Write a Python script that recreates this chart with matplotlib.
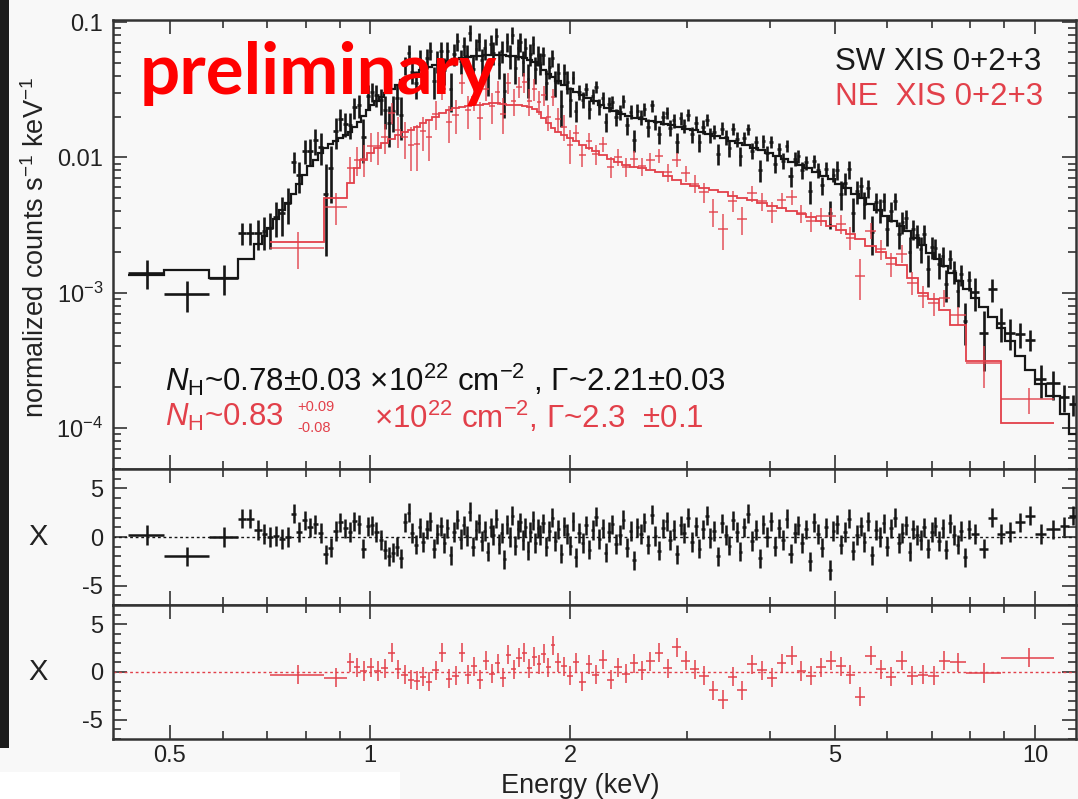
import numpy as np
import matplotlib
matplotlib.use("Agg")
import matplotlib.pyplot as plt
from matplotlib.patches import Rectangle
from matplotlib.ticker import FixedLocator, FixedFormatter, NullFormatter, LogLocator, MultipleLocator

plt.rcParams['font.family'] = ['Liberation Sans', 'DejaVu Sans']
plt.rcParams['mathtext.fontset'] = 'custom'
plt.rcParams['mathtext.rm'] = 'Liberation Sans'
plt.rcParams['mathtext.it'] = 'Liberation Sans:italic'
plt.rcParams['mathtext.bf'] = 'Liberation Sans:bold'
plt.rcParams['axes.unicode_minus'] = False

# ---------------- data ----------------
# SW (black): data bin edges [keV]
SW_EDGES = [0.433, 0.490, 0.572, 0.634, 0.650, 0.668, 0.687, 0.700, 0.715, 0.730,
            0.745, 0.760, 0.775, 0.790, 0.805, 0.820, 0.835, 0.850, 0.865, 0.880,
            0.895, 0.910, 0.925, 0.940, 0.955, 0.970, 0.985, 1.000,
            1.015, 1.030, 1.045, 1.061, 1.076, 1.090, 1.105, 1.120, 1.136, 1.150,
            1.165, 1.180, 1.195, 1.211, 1.225, 1.240, 1.255, 1.270, 1.286, 1.300,
            1.315, 1.330, 1.345, 1.361, 1.375, 1.390, 1.405, 1.420, 1.436, 1.450,
            1.465, 1.480, 1.495, 1.511, 1.525, 1.540, 1.555, 1.570, 1.586, 1.600,
            1.615, 1.630, 1.645, 1.661, 1.675, 1.690, 1.705, 1.720, 1.736, 1.750,
            1.765, 1.780, 1.795, 1.810,
            1.830, 1.850, 1.870, 1.890, 1.910, 1.930, 1.950, 1.970, 1.990, 2.010,
            2.030, 2.050, 2.075, 2.100, 2.125, 2.150, 2.175, 2.200, 2.225, 2.250,
            2.275, 2.300, 2.330, 2.360, 2.390, 2.420, 2.450, 2.480, 2.510, 2.540,
            2.570, 2.600, 2.635, 2.670, 2.705, 2.740, 2.775, 2.810, 2.845, 2.880,
            2.915, 2.950, 2.990, 3.030,
            3.070, 3.110, 3.150, 3.190, 3.230, 3.270, 3.315, 3.360, 3.405, 3.450,
            3.495, 3.540, 3.585, 3.630, 3.680, 3.730, 3.780, 3.830, 3.880, 3.930,
            3.985, 4.040, 4.095, 4.150, 4.205, 4.260, 4.320, 4.380, 4.440, 4.500,
            4.560, 4.620, 4.685, 4.750, 4.815, 4.880, 4.945, 5.010,
            5.080, 5.150, 5.220, 5.290, 5.360, 5.430, 5.505, 5.580, 5.655, 5.730,
            5.805, 5.880, 5.960, 6.040, 6.120, 6.200, 6.280, 6.360, 6.440, 6.520,
            6.605, 6.690, 6.775, 6.860, 6.950, 7.040,
            7.130, 7.220, 7.310, 7.400, 7.500, 7.600, 7.700, 7.800, 7.910, 8.020,
            8.250, 8.500, 8.760, 9.030, 9.330, 9.650, 10.00, 10.40, 10.90, 11.25, 11.60]

# SW residuals (chi) per data bin
SW_CHI = [0.2, -2.0, 0.0, 1.9, 1.9, 0.7, 0.3, 0.0, 0.1, -0.2,
          0.0, 2.4, 0.5, 1.7, 1.0, 1.3, 0.4, -1.8, -1.1, 0.6,
          1.5, 0.9, 0.5, 1.6, 1.3, -1.2, 1.1,
          1.2, 0.5, -0.3, -1.3, -2.0, -1.6, -1.0, -2.2, 1.5, 2.5,
          0.4, -0.8, 1.0, -0.5, 0.8, 1.6, -1.2, 0.3, 1.1, -0.6,
          0.9, -1.9, 0.5, 1.8, -0.2, 1.2, 0.1, 2.6, -1.0, 0.7,
          1.4, -0.4, 0.6, -1.5, 1.0, 0.2, 1.9, -0.7, 0.4, -2.3,
          1.3, 0.0, 2.2, -0.9, 0.8, 1.5, -0.3, 1.0, -1.4, 0.5,
          1.7, -0.6, 0.9, 0.2,
          1.4, -1.0, 0.6, 2.0, -0.4, 0.8, -1.7, 1.1, 0.3, -0.9,
          1.6, -2.1, 0.4, -0.6, 1.2, -1.3, 0.7, 2.1, -0.2, 0.9,
          -1.6, 0.5, 1.3, -0.7, 0.2, 1.8, -1.1, 0.6, -2.4, 1.0,
          0.3, 1.5, -0.8, 2.3, 0.1, -1.4, 0.9, 1.6, -0.3, 0.7,
          -1.8, 1.2, 0.4, 2.0,
          -0.5, 1.1, -1.2, 0.8, 2.2, -0.1, 0.6, -2.0, 1.4, 0.2,
          -0.9, 1.7, 0.5, -1.5, 1.0, 2.4, -0.4, 0.7, -2.2, 1.3,
          0.0, 1.6, -1.0, 0.9, -0.3, 1.9, -1.7, 0.4, 1.2, -0.6,
          0.8, -2.5, 1.5, 0.3, -1.1, 1.0, -3.4, 0.6,
          1.3, -0.8, 0.5, 1.9, -1.4, 0.2, 1.1, -0.5, 1.6, -1.9,
          0.7, 0.0, 1.4, -1.0, 0.9, 2.0, -0.6, 0.4, 1.2, -1.5,
          0.8, 0.2, -0.3, 1.0, -1.2, 0.5,
          1.1, -0.4, 0.9, -1.3, 1.4, 0.2, -0.8, 0.6, -2.1, 0.8,
          0.3, -1.2, 2.0, 0.3, 0.5, 1.5, 2.2, 0.3, 0.8, 1.1, 2.2]

# SW best-fit model (step line): edges and values [counts/s/keV]
SW_MODEL_EDGES = [0.433, 0.490, 0.572, 0.634, 0.668, 0.687, 0.700, 0.715, 0.730, 0.745,
                  0.760, 0.775, 0.790, 0.805, 0.820, 0.835, 0.850, 0.865, 0.880, 0.895,
                  0.910, 0.925, 0.940, 0.955, 0.970, 0.985, 1.000, 1.015, 1.030, 1.050,
                  1.070, 1.090, 1.110, 1.135, 1.160, 1.185, 1.210, 1.240, 1.270, 1.300,
                  1.330, 1.360, 1.390, 1.420, 1.450, 1.480, 1.510, 1.540, 1.570, 1.600,
                  1.630, 1.660, 1.690, 1.720, 1.750, 1.780, 1.810, 1.840, 1.870, 1.900,
                  1.940, 1.980, 2.020, 2.060, 2.100, 2.150, 2.200, 2.250, 2.300, 2.360,
                  2.420, 2.480, 2.540, 2.600, 2.670, 2.740, 2.810, 2.880, 2.950, 3.030,
                  3.110, 3.190, 3.270, 3.360, 3.450, 3.540, 3.630, 3.730, 3.830, 3.930,
                  4.040, 4.150, 4.260, 4.380, 4.500, 4.620, 4.750, 4.880, 5.010, 5.150,
                  5.290, 5.430, 5.580, 5.730, 5.880, 6.040, 6.200, 6.360, 6.520, 6.690,
                  6.860, 7.040, 7.220, 7.400, 7.600, 7.800, 8.020, 8.250, 8.500, 8.760,
                  9.030, 9.330, 9.650, 10.00, 10.40, 10.90, 11.25, 11.60]
SW_MODEL = [1.34e-3, 1.47e-3, 1.29e-3, 1.76e-3, 2.27e-3, 2.60e-3, 2.98e-3, 3.50e-3, 4.10e-3, 4.60e-3,
            5.40e-3, 6.40e-3, 7.40e-3, 8.60e-3, 9.60e-3, 0.0107, 0.0117, 0.0125, 0.0132, 0.0139,
            0.0145, 0.0155, 0.0167, 0.0183, 0.0203, 0.0223, 0.0245, 0.0263, 0.0280, 0.0300,
            0.0322, 0.0345, 0.0370, 0.0395, 0.0420, 0.0443, 0.0465, 0.0485, 0.0500, 0.0515,
            0.0530, 0.0540, 0.0550, 0.0558, 0.0565, 0.0570, 0.0572, 0.0572, 0.0570, 0.0565,
            0.0558, 0.0550, 0.0540, 0.0528, 0.0510, 0.0480, 0.0445, 0.0415, 0.0390, 0.0365,
            0.0342, 0.0322, 0.0305, 0.0290, 0.0275, 0.0260, 0.0245, 0.0232, 0.0220, 0.0210,
            0.0202, 0.0196, 0.0191, 0.0186, 0.0181, 0.0177, 0.0172, 0.0168, 0.0163, 0.0158,
            0.0153, 0.0148, 0.0143, 0.0138, 0.0133, 0.0128, 0.0123, 0.0118, 0.0113, 0.0108,
            0.0103, 0.0098, 0.0093, 0.0088, 0.0083, 0.0078, 0.0073, 0.0069, 0.0064, 0.0059,
            0.0054, 0.0050, 0.0045, 0.0041, 0.0037, 0.0034, 0.0031, 0.00285, 0.00255, 0.00225,
            0.00197, 0.00176, 0.00157, 0.00139, 0.00122, 0.00107, 0.00092, 0.00078, 0.00066, 0.00055,
            0.00044, 0.00034, 0.00027, 0.00021, 0.000172, 0.000127, 0.000090]
# SW fractional 1-sigma errors by energy band
SW_ERR_EDGES = [0.433, 0.490, 0.572, 0.634, 0.900, 1.000, 2.000, 5.000, 8.000, 11.60]
SW_ERR = [0.25, 0.17, 0.25, 0.30, 0.25, 0.20, 0.13, 0.20, 0.30]

# NE (red): bins (data bins == model bins), model, residuals
NE_EDGES = [0.707, 0.853, 0.923, 0.946, 0.966, 0.990, 1.014, 1.040, 1.065, 1.090,
            1.115, 1.140, 1.165, 1.190, 1.215, 1.240, 1.270, 1.300, 1.330, 1.360,
            1.390, 1.420, 1.450, 1.480, 1.510, 1.540, 1.570, 1.600, 1.630, 1.660,
            1.690, 1.720, 1.750, 1.780, 1.810, 1.840, 1.870, 1.900, 1.940, 1.980,
            2.020, 2.060, 2.110, 2.160, 2.210, 2.270, 2.330, 2.390, 2.460, 2.530,
            2.600, 2.680, 2.760, 2.850, 2.940, 3.030, 3.130, 3.230, 3.340, 3.450,
            3.570, 3.690, 3.820, 3.950, 4.090, 4.230, 4.380, 4.530, 4.690, 4.850,
            5.020, 5.190, 5.370, 5.560, 5.760, 5.970, 6.190, 6.420, 6.660, 6.910,
            7.170, 7.450, 7.870, 8.890, 10.70]
NE_MODEL = [2.35e-3, 4.97e-3, 6.5e-3, 8.4e-3, 9.5e-3, 0.0107, 0.0117, 0.0127, 0.0137, 0.0146,
            0.0153, 0.0160, 0.0168, 0.0178, 0.0188, 0.0200, 0.0212, 0.0222, 0.0230, 0.0236,
            0.0240, 0.0243, 0.0245, 0.0248, 0.0250, 0.0250, 0.0248, 0.0245, 0.0243, 0.0242,
            0.0240, 0.0236, 0.0228, 0.0215, 0.0195, 0.0178, 0.0165, 0.0154, 0.0146, 0.0138,
            0.0131, 0.0124, 0.0117, 0.0111, 0.0104, 0.0098, 0.0093, 0.0088, 0.0085, 0.0083,
            0.0081, 0.0078, 0.0073, 0.0068, 0.0064, 0.0061, 0.0059, 0.0057, 0.0055, 0.0052,
            0.0050, 0.0048, 0.0046, 0.0044, 0.0042, 0.0040, 0.0038, 0.0036, 0.0034, 0.0031,
            0.0029, 0.0027, 0.0025, 0.0022, 0.0020, 0.0018, 0.0016, 0.00128, 0.00100, 0.00090,
            0.00075, 0.00058, 0.00031, 0.000109]
NE_CHI = [-0.3, -0.6, 1.0, 0.5, 0.1, 0.5, 0.1, 0.4, 2.0, 0.3,
          -0.3, -0.8, -0.9, -0.5, -1.0, 0.2, 2.0, -0.7, -0.4, 2.0,
          -0.3, 0.6, -0.8, 1.2, -0.2, 0.9, -0.6, 1.8, 0.3, 1.5,
          2.0, 0.4, 1.6, 0.8, 1.9, 0.5, 2.8, 1.0, 0.6, -0.4,
          1.0, -1.0, 0.8, -0.3, 1.3, -0.8, 0.5, -0.2, 0.9, 0.2,
          1.1, 2.0, 0.4, 2.6, 1.2, 0.3, -0.4, -1.9, -2.9, -0.5,
          -1.9, 0.8, 0.2, -0.6, 0.9, 1.7, 0.1, -0.4, 0.5, 1.2,
          0.6, -0.3, -2.6, 1.7, 0.3, -0.5, 1.2, -0.4, -0.3, -0.4,
          1.2, 1.0, -0.1, 1.5]
NE_ERR_EDGES = [0.700, 0.853, 0.923, 1.200, 2.000, 5.000, 7.870, 10.80]
NE_ERR = [0.28, 0.23, 0.28, 0.25, 0.16, 0.18, 0.33]

X_TICKS = [0.5, 1, 2, 5, 10]
X_TICKLABELS = ['0.5', '1', '2', '5', '10']
X_MINOR = [0.6, 0.7, 0.8, 0.9, 3, 4, 6, 7, 8, 9]
Y_TICKS = [1e-4, 1e-3, 1e-2, 1e-1]
Y_TICKLABELS = [r'10$^{-4}$', r'10$^{-3}$', '0.01', '0.1']
R_TICKS = [-5, 0, 5]
R_TICKLABELS = ['-5', '0', '5']

BLACK = '#161616'
RED = '#e2404a'

# ---------------- derived quantities ----------------
def spectrum(edges, chi, m_edges, m_vals, e_edges, e_vals):
    edges = np.asarray(edges)
    lo, hi = edges[:-1], edges[1:]
    cen = 0.5 * (lo + hi)
    mod = np.asarray(m_vals)[np.searchsorted(m_edges, cen) - 1]
    rel = np.asarray(e_vals)[np.searchsorted(e_edges, cen) - 1]
    err = rel * mod
    flux = mod + np.asarray(chi) * err
    return lo, hi, cen, flux, err

sw_lo, sw_hi, sw_c, sw_f, sw_e = spectrum(SW_EDGES, SW_CHI, SW_MODEL_EDGES, SW_MODEL, SW_ERR_EDGES, SW_ERR)
ne_lo, ne_hi, ne_c, ne_f, ne_e = spectrum(NE_EDGES, NE_CHI, NE_EDGES, NE_MODEL, NE_ERR_EDGES, NE_ERR)

# ---------------- figure ----------------
W, H = 1078, 799
BG = '#f8f8f8'
fig = plt.figure(figsize=(W / 100, H / 100), dpi=100, facecolor=BG)

def fx(px):
    return px / W

def fy(py):
    return 1 - py / H

L, R = 113, 1076
T0, B0, B1, B2 = 20, 469, 605, 739
ax = fig.add_axes([fx(L), fy(B0), fx(R) - fx(L), fy(T0) - fy(B0)])
axr1 = fig.add_axes([fx(L), fy(B1), fx(R) - fx(L), fy(B0) - fy(B1)], sharex=ax)
axr2 = fig.add_axes([fx(L), fy(B2), fx(R) - fx(L), fy(B1) - fy(B2)], sharex=ax)

# decorations outside the plot (dark strip at left edge, white corner at bottom left)
fig.patches.append(Rectangle((0, fy(748)), fx(9), 1 - fy(748), transform=fig.transFigure,
                             facecolor='#1c1c1c', edgecolor='none', zorder=-5))
fig.patches.append(Rectangle((0, 0), fx(400), fy(772), transform=fig.transFigure,
                             facecolor='white', edgecolor='none', zorder=-5))

for a in (ax, axr1, axr2):
    a.set_facecolor(BG)
    a.set_zorder(2)
    for s in a.spines.values():
        s.set_linewidth(1.8)
        s.set_color('#333333')

# main spectrum
ax.errorbar(sw_c, sw_f, xerr=[sw_c - sw_lo, sw_hi - sw_c], yerr=sw_e, fmt='none',
            ecolor=BLACK, elinewidth=1.9, capsize=0, zorder=3)
ax.stairs(SW_MODEL, SW_MODEL_EDGES, baseline=None, color=BLACK, lw=1.6, zorder=4)
ax.errorbar(ne_c, ne_f, xerr=[ne_c - ne_lo, ne_hi - ne_c], yerr=ne_e, fmt='none',
            ecolor=RED, elinewidth=1.1, capsize=0, zorder=5, alpha=0.9)
ax.stairs(NE_MODEL, NE_EDGES, baseline=None, color=RED, lw=1.3, zorder=6)

ax.set_xscale('log')
ax.set_yscale('log')
ax.set_xlim(0.4106, 11.53)
ax.set_ylim(4.97e-5, 0.1035)

# residuals
axr1.errorbar(sw_c, SW_CHI, xerr=[sw_c - sw_lo, sw_hi - sw_c], yerr=1.0, fmt='none',
              ecolor=BLACK, elinewidth=1.8, capsize=0, zorder=3)
axr1.axhline(0, color=BLACK, lw=1.0, ls=(0, (2, 2)), zorder=2)
axr2.errorbar(ne_c, NE_CHI, xerr=[ne_c - ne_lo, ne_hi - ne_c], yerr=1.0, fmt='none',
              ecolor=RED, elinewidth=1.1, capsize=0, zorder=3)
axr2.axhline(0, color=RED, lw=1.0, ls=(0, (2, 2)), zorder=2)
for a in (axr1, axr2):
    a.set_ylim(-7, 7)
    a.yaxis.set_major_locator(FixedLocator(R_TICKS))
    a.yaxis.set_major_formatter(FixedFormatter(R_TICKLABELS))
    a.yaxis.set_minor_locator(MultipleLocator(1))

ax.yaxis.set_major_locator(FixedLocator(Y_TICKS))
ax.yaxis.set_major_formatter(FixedFormatter(Y_TICKLABELS))
ax.yaxis.set_minor_locator(LogLocator(base=10, subs=range(2, 10)))
ax.yaxis.set_minor_formatter(NullFormatter())

for a in (ax, axr1, axr2):
    a.xaxis.set_major_locator(FixedLocator(X_TICKS))
    a.xaxis.set_minor_locator(FixedLocator(X_MINOR))
    a.xaxis.set_minor_formatter(NullFormatter())
    a.tick_params(which='both', direction='in', top=True, right=True, colors='#333333',
                  labelcolor='#222222', labelsize=17, width=1.2)
    a.tick_params(which='major', length=10, pad=7)
    a.tick_params(which='minor', length=6)
axr2.tick_params(axis='x', which='major', pad=4)
axr2.xaxis.set_major_formatter(FixedFormatter(X_TICKLABELS))
ax.tick_params(labelbottom=False)
axr1.tick_params(labelbottom=False)

# labels
fig.text(fx(36), fy(247), r'normalized counts s$^{-1}$ keV$^{-1}$', rotation=90,
         ha='center', va='center', fontsize=19.5, color='#222222')
fig.text(fx(38), fy(537), 'X', ha='center', va='center', fontsize=21, color='#222222')
fig.text(fx(38), fy(672), 'X', ha='center', va='center', fontsize=21, color='#222222')
fig.text(fx(580), fy(786), 'Energy (keV)', ha='center', va='center', fontsize=19.5, color='#222222')

# legend texts
fig.text(fx(835), fy(62), 'SW XIS 0+2+3', ha='left', va='center', fontsize=22.5, color='#1a1a1a', zorder=10)
fig.text(fx(835), fy(97), 'NE  XIS 0+2+3', ha='left', va='center', fontsize=22.5, color=RED, zorder=10)

# fit parameter annotations
fig.text(fx(165), fy(380), r'$\mathit{N}_{\mathrm{H}}$~0.78±0.03 ×10$^{22}$ cm$^{-2}$ , Γ~2.21±0.03',
         ha='left', va='center', fontsize=22.5, color='#111111', zorder=10)
fig.text(fx(165), fy(417), r'$\mathit{N}_{\mathrm{H}}$~0.83', ha='left', va='center', fontsize=22.5,
         color=RED, zorder=10)
fig.text(fx(297), fy(407), '+0.09', ha='left', va='center', fontsize=10.5, color=RED, zorder=10)
fig.text(fx(297), fy(428), '-0.08', ha='left', va='center', fontsize=10.5, color=RED, zorder=10)
fig.text(fx(374), fy(417), r'×10$^{22}$ cm$^{-2}$, Γ~2.3  ±0.1', ha='left', va='center',
         fontsize=22.5, color=RED, zorder=10)

# watermark
fig.text(fx(140), fy(94), 'preliminary', ha='left', va='baseline', fontsize=51,
         fontfamily=['Lato', 'DejaVu Sans'], fontweight='bold', color='#ff0000', zorder=10)

fig.savefig('out.png', dpi=100, facecolor=BG)
